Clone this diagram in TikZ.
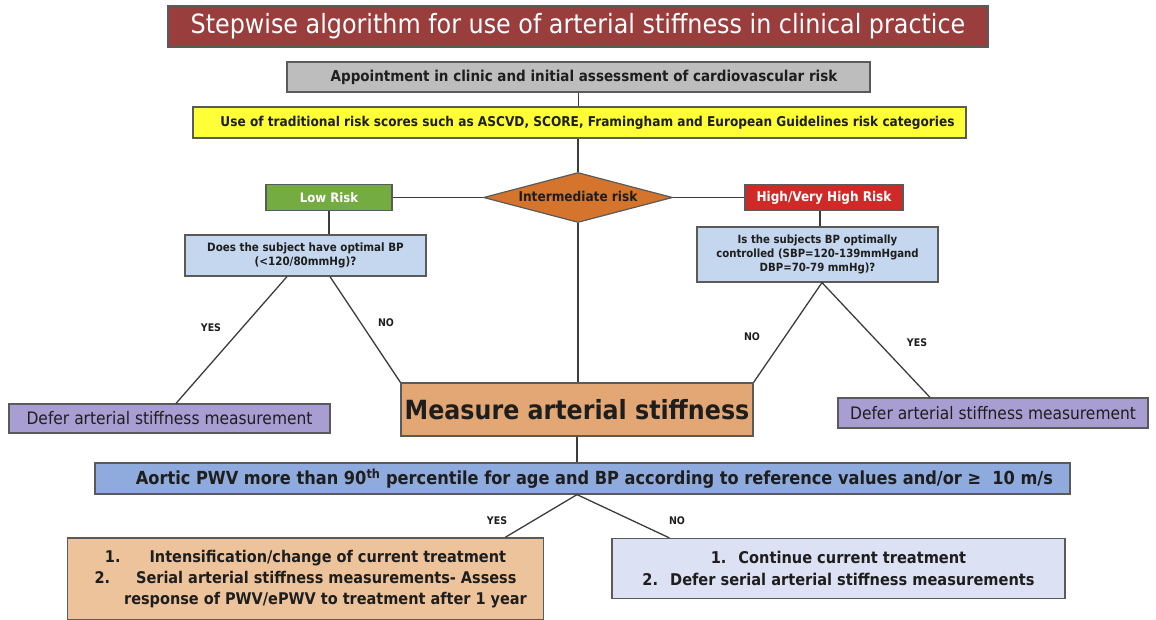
\documentclass[tikz,border=0pt]{standalone}
\usepackage{fontspec}
\setmainfont{DejaVu Sans Condensed}
\usetikzlibrary{shapes.geometric}
\definecolor{titlefill}{HTML}{993D3D}
\definecolor{apptfill}{HTML}{BDBDBD}
\definecolor{scorefill}{HTML}{FFFF38}
\definecolor{midfill}{HTML}{D5742C}
\definecolor{lowfill}{HTML}{74AC42}
\definecolor{highfill}{HTML}{CF2A27}
\definecolor{askfill}{HTML}{C4D7EE}
\definecolor{deferfill}{HTML}{A99ED2}
\definecolor{measurefill}{HTML}{E2A774}
\definecolor{pwvfill}{HTML}{8FAADC}
\definecolor{treatfill}{HTML}{EDC39B}
\definecolor{keepfill}{HTML}{DDE1F4}
\definecolor{boxline}{HTML}{5A5A5A}
\definecolor{linkline}{HTML}{3C3C3C}
\definecolor{ink}{HTML}{1E1E1E}
\begin{document}
\begin{tikzpicture}[x=1pt,y=-1pt,
  box/.style={rectangle, draw=boxline, line width=1.2pt, inner sep=0pt, align=center, text=ink},
  link/.style={draw=linkline, line width=1.3pt},
  answer/.style={inner sep=0pt, text=ink, font=\fontsize{10.5}{12}\selectfont\bfseries},
]
\useasboundingbox (0,0) rectangle (1156,620);

% heading
\node[box, fill=titlefill, text=white, minimum width=820, minimum height=41,
      font=\fontsize{26.5}{30}\selectfont] (title) at (578,26.5)
  {Stepwise algorithm for use of arterial stiffness in clinical practice};

% risk assessment
\node[box, fill=apptfill, minimum width=583, minimum height=30,
      font=\fontsize{15}{18}\selectfont\bfseries] (appt) at (578.5,77)
  {\hspace*{11pt}Appointment in clinic and initial assessment of cardiovascular risk};
\node[box, fill=scorefill, minimum width=773, minimum height=31,
      font=\fontsize{13.5}{16}\selectfont\bfseries] (score) at (579.5,122.5)
  {\hspace*{16pt}Use of traditional risk scores such as ASCVD, SCORE, Framingham and European Guidelines risk categories};

\node[diamond, draw=boxline, line width=1.2pt, fill=midfill, inner sep=0pt,
      minimum width=189, minimum height=50, aspect=3.78] (mid) at (578,197.5) {};
\node[inner sep=0pt, text=ink, font=\fontsize{13.5}{16}\selectfont\bfseries] (midtext) at (578,196)
  {Intermediate risk};

\node[box, fill=lowfill, text=white, minimum width=126, minimum height=26,
      font=\fontsize{13}{15}\selectfont\bfseries] (low) at (329,197.5) {Low Risk};
\node[box, fill=highfill, text=white, minimum width=158, minimum height=26,
      font=\fontsize{13.4}{15}\selectfont\bfseries] (high) at (824,197.5) {High/Very High Risk};

% blood pressure questions
\node[box, fill=askfill, minimum width=241, minimum height=41,
      font=\fontsize{11.5}{13.5}\selectfont\bfseries] (askL) at (305.5,255.5)
  {Does the subject have optimal BP\\(<120/80mmHg)?};
\node[box, fill=askfill, minimum width=241, minimum height=55,
      font=\fontsize{11.3}{14}\selectfont\bfseries] (askR) at (817.5,254.5)
  {Is the subjects BP optimally\\controlled (SBP=120-139mmHgand\\DBP=70-79 mmHg)?};

% outcomes of the questions
\node[box, fill=deferfill, minimum width=321, minimum height=29,
      font=\fontsize{17.2}{20}\selectfont] (deferL) at (169.5,418.5)
  {Defer arterial stiffness measurement};
\node[box, fill=deferfill, minimum width=310, minimum height=30,
      font=\fontsize{17.2}{20}\selectfont] (deferR) at (993,413)
  {Defer arterial stiffness measurement};
\node[box, fill=measurefill, minimum width=352, minimum height=53,
      font=\fontsize{26.4}{31}\selectfont\bfseries] (measure) at (577,409.5)
  {Measure arterial stiffness};

% PWV threshold and treatment
\node[box, fill=pwvfill, minimum width=975, minimum height=31,
      font=\fontsize{18}{21}\selectfont\bfseries] (pwv) at (582.5,478.5)
  {\hspace*{24pt}Aortic PWV more than 90\textsuperscript{th} percentile for age and BP according to reference values and/or ≥\ \ 10 m/s};
\node[box, fill=treatfill, minimum width=476, minimum height=82,
      font=\fontsize{16.1}{21}\selectfont\bfseries] (treat) at (305.5,579)
  {1.\hspace{29pt}Intensification/change of current treatment\\
   2.\hspace{26pt}Serial arterial stiffness measurements- Assess\\
   \hspace*{40pt}response of PWV/ePWV to treatment after 1 year};
\node[box, fill=keepfill, minimum width=453, minimum height=60,
      font=\fontsize{16.2}{22.5}\selectfont\bfseries] (keep) at (838.5,568.5)
  {1.\hspace{12pt}Continue current treatment\\2.\hspace{12pt}Defer serial arterial stiffness measurements};

% connectors
\draw[link] (appt.south) -- (appt.south |- score.north);
\draw[link] (mid.north) -- (mid.north |- score.south);
\draw[link] (low.east) -- (mid.west);
\draw[link] (mid.east) -- (high.west);
\draw[link] (low.south) -- (low |- askL.north);
\draw[link] ([xshift=-4pt]high.south) -- ([xshift=-4pt]high.south |- askR.north);
\draw[link] (mid.south) -- (mid.south |- measure.north);

\draw[link] ([xshift=-18.5pt]askL.south) -- ([xshift=6.5pt]deferL.north);
\draw[link] ([xshift=24.5pt]askL.south) -- (measure.north west);
\draw[link] ([xshift=4.5pt]askR.south) -- (measure.north east);
\draw[link] ([xshift=4.5pt]askR.south) -- ([xshift=-63pt]deferR.north);

\draw[link] (measure.south) -- (measure.south |- pwv.north);
\coordinate (split) at (measure.south |- pwv.south);
\draw[link] ([xshift=-39pt]treat.north east) -- (split) -- ([xshift=58pt]keep.north west);

% answer labels
\node[answer] (yesL) at (211,328) {YES};
\node[answer] (noL) at (386,323) {NO};
\node[answer] (noR) at (752,337) {NO};
\node[answer] (yesR) at (917,343) {YES};
\node[answer] (yesP) at (497,521) {YES};
\node[answer] (noP) at (677,521) {NO};
\end{tikzpicture}
\end{document}
